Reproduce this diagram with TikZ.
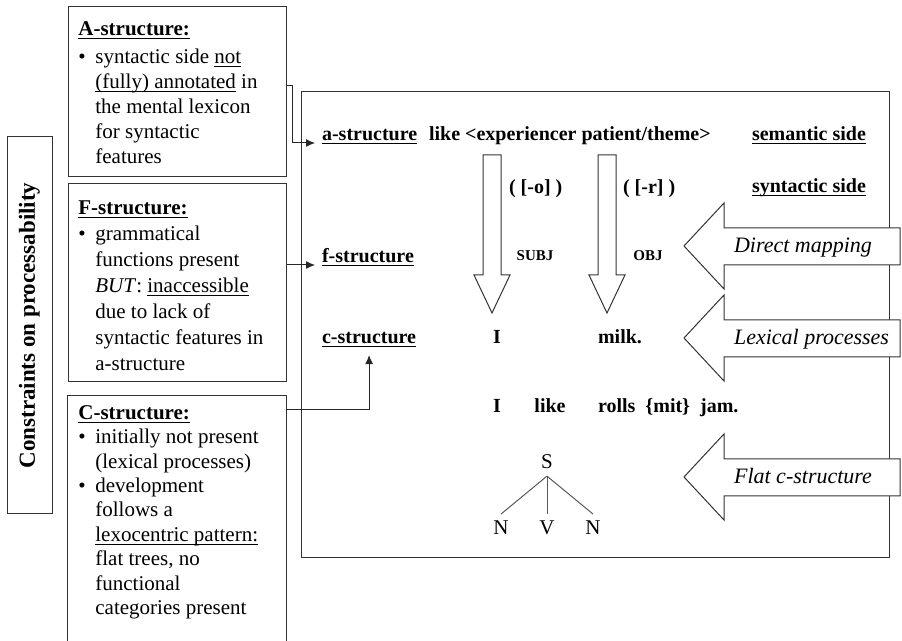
\documentclass[tikz,border=0pt]{standalone}
\usepackage{fontspec}
\setmainfont{Liberation Serif}
\usetikzlibrary{arrows.meta}
\newcommand{\uln}[1]{\ensuremath{\underline{\smash{\mbox{#1}}}}}
\newcommand{\bulpt}{\makebox[8.5pt][l]{\textbullet}}
\newcommand{\bulind}{\hspace*{8.5pt}}
\tikzset{
	boxline/.style={draw=black!80, line width=0.5pt, inner sep=0pt},
	boxtext/.style={anchor=north west, align=left, inner sep=0pt},
	lbl/.style={anchor=base west, font=\bfseries},
	conn/.style={draw=black!85, line width=0.5pt, -{Latex[length=4.5pt,width=4pt]}},
	bigarrow/.style={draw=black!80, line width=0.5pt, fill=white},
	treeline/.style={draw=black!65, line width=0.5pt},
}

\begin{document}
\begin{tikzpicture}[x=0.5pt, y=-0.5pt, font=\fontsize{10.5}{12.5}\selectfont]
		%%%%% START %%%%%
		\useasboundingbox (0,0) rectangle (902,641);
		
		% left column
		\node[boxline, rotate=90, minimum width=188.5pt, minimum height=22.5pt,
			font=\fontsize{11.5}{13}\selectfont\bfseries] (cons) at (29.5,325.5) {Constraints on processability};
		
		\node[boxline, minimum width=109pt, minimum height=85pt] (abox) at (177,92) {};
		\node[boxtext] (atext) at (78,35) {\textbf{\uln{A-structure:}}\\[1.5pt]
			\bulpt syntactic side \uln{not}\\
			\bulind\uln{(fully) annotated} in\\
			\bulind the mental lexicon\\
			\bulind for syntactic\\
			\bulind features};
		
		\node[boxline, minimum width=109pt, minimum height=99pt] (fbox) at (177,283) {};
		\node[boxtext, font=\fontsize{10.5}{13}\selectfont] (ftext) at (78,214) {\textbf{\uln{F-structure:}}\\
			\bulpt grammatical\\
			\bulind functions present\\
			\bulind\textit{BUT}: \uln{inaccessible}\\
			\bulind due to lack of\\
			\bulind syntactic features in\\
			\bulind a-structure};
		
		\node[inner sep=0pt, minimum width=109pt, minimum height=122.5pt] (cbox) at (177,518.5) {};
		\draw[boxline] (cbox.south west) |- (cbox.north east) -- (cbox.south east);
		\node[boxtext, font=\fontsize{10.5}{12.2}\selectfont] (ctext) at (78,419) {\textbf{\uln{C-structure:}}\\
			\bulpt initially not present\\
			\bulind (lexical processes)\\
			\bulpt development\\
			\bulind follows a\\
			\bulind\uln{lexocentric pattern:}\\
			\bulind flat trees, no\\
			\bulind functional\\
			\bulind categories present};
		
		% main frame
		\node[boxline, minimum width=294pt, minimum height=233pt] (mainbox) at (595,325) {};
		
		\node[lbl] (astr) at (315,141) {\uln{a-structure}};
		\node[lbl] (frame) at (422,141) {like <experiencer patient/theme>};
		\node[lbl] (semside) at (745,141) {\uln{semantic side}};
		\node[lbl] (synside) at (745,193) {\uln{syntactic side}};
		\node[lbl] (fstr) at (315,263) {\uln{f-structure}};
		\node[lbl] (cstr) at (315,344) {\uln{c-structure}};
		
		% mapping arrows
		\foreach \ax in {492,607}
			\draw[bigarrow] (\ax-9,155) -- (\ax+9,155) -- (\ax+9,275) -- (\ax+18,275)
				-- (\ax,313) -- (\ax-18,275) -- (\ax-9,275) -- cycle;
		\node[lbl] (oparen) at (502,194) {( [-o] )};
		\node[lbl] (rparen) at (616,194) {( [-r] )};
		\node[lbl, anchor=base, font=\fontsize{7.5}{9}\selectfont\bfseries] (subj) at (535,261) {SUBJ};
		\node[lbl, anchor=base, font=\fontsize{7.5}{9}\selectfont\bfseries] (obj) at (648,261) {OBJ};
		
		% sentences
		\node[lbl, anchor=base] (ci) at (497,344) {I};
		\node[lbl] (cmilk) at (591,344) {milk.};
		\node[lbl, anchor=base] (si) at (497,413) {I};
		\node[lbl, anchor=base] (slike) at (550,413) {like};
		\node[lbl] (sjam) at (591,413) {rolls~~\{mit\}~~jam.};
		
		% flat tree
		\node (s) at (547,462) {S};
		\node (n1) at (501,528) {N};
		\node (v) at (547,528) {V};
		\node (n2) at (593,528) {N};
		\foreach \leaf in {n1,v,n2}
			\draw[treeline] (s.south) -- (\leaf.north);
		
		% processes
		\foreach \ty/\txt in {246/Direct mapping, 338/Lexical processes, 477/Flat c-structure}{
			\draw[bigarrow] (684,\ty) -- (724,\ty-43) -- (724,\ty-18) -- (900,\ty-18)
				-- (900,\ty+19) -- (724,\ty+19) -- (724,\ty+43) -- cycle;
			\node[anchor=base west, font=\fontsize{11}{13}\selectfont\itshape] (proc\ty) at (727,\ty+7) {\txt};
		}
		
		% links
		\draw[conn] ([yshift=3pt]abox.east) -- ++(3pt,0) |- (astr.west);
		\draw[conn] (fbox.east |- fstr.west) -- (fstr.west);
		\draw[conn] ([yshift=-7pt]cbox.north east) -| (cstr.south);
		
		%%%%% END %%%%%
	\end{tikzpicture}
\end{document}
